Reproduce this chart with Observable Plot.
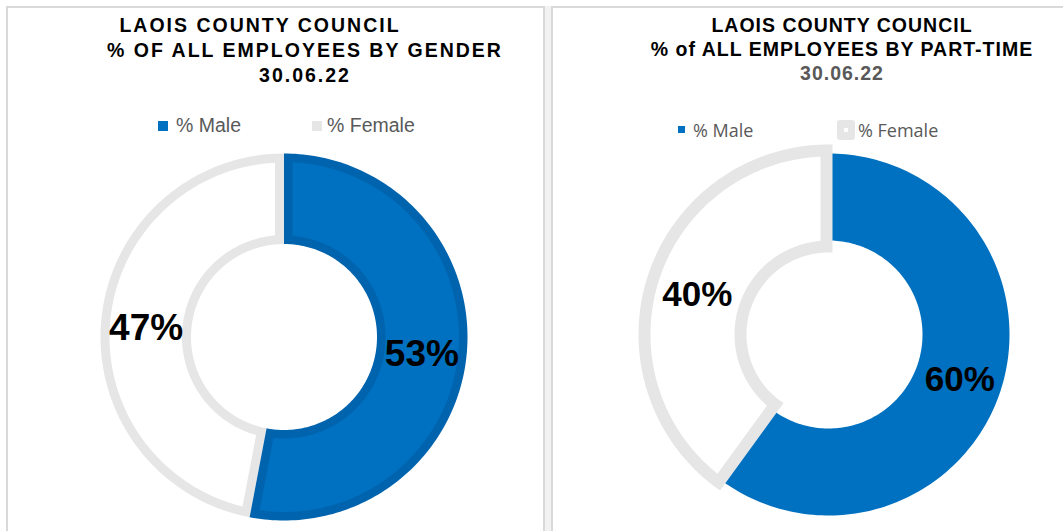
<!DOCTYPE html>
<html>
<head>
<meta charset="utf-8">
<script src="https://cdn.jsdelivr.net/npm/d3@7"></script>
<script src="https://cdn.jsdelivr.net/npm/@observablehq/plot@0.6"></script>
<style>
  html, body { margin: 0; padding: 0; background: #fff; }
  #root { position: relative; width: 1063px; height: 531px; overflow: hidden; background: #fff; font-family: "Liberation Sans", Arial, sans-serif; }
  .panelL { position: absolute; left: 6px; top: 6px; width: 535px; height: 560px; border-left: 2px solid #d9d9d9; border-top: 2px solid #d9d9d9; border-right: 2px solid #d9d9d9; }
  .gap { position: absolute; left: 545px; top: 6px; width: 6px; height: 560px; background: #f2f2f2; }
  .panelR { position: absolute; left: 551px; top: 6px; width: 560px; height: 560px; border-left: 2px solid #d9d9d9; border-top: 2px solid #d9d9d9; }
  .tline { position: absolute; white-space: pre; transform: translateX(-50%); font-weight: bold; font-size: 19.5px; color: #000; }
  .leg { position: absolute; white-space: pre; }
  .sw { position: absolute; }
  .chart { position: absolute; }
</style>
</head>
<body>
<div id="root">
  <div class="panelL"></div>
  <div class="gap"></div>
  <div class="panelR"></div>
</div>
<script>
// ---------- data ----------
const genderTitle = ["LAOIS COUNTY COUNCIL", "% OF ALL EMPLOYEES BY GENDER", "30.06.22"];
const genderCategories = ["% Male", "% Female"];
const genderValues = [53, 47];

const partTimeTitle = ["LAOIS COUNTY COUNCIL", "% of ALL EMPLOYEES BY PART-TIME", "30.06.22"];
const partTimeCategories = ["% Male", "% Female"];
const partTimeValues = [60, 40];

// ---------- styles ----------
const BLUE = "#0070c0";
const BLUE_DARK = "#0063ad";
const GRAY = "#e6e6e6";
const root = document.getElementById("root");

function addDiv(cls, css, text) {
  const d = document.createElement("div");
  d.className = cls;
  Object.assign(d.style, css);
  if (text != null) d.textContent = text;
  root.appendChild(d);
  return d;
}

// titles
const leftCenters = [260, 305, 305];
genderTitle.forEach((t, i) => addDiv("tline", {left: leftCenters[i] + "px", top: (12.7 + 25 * i) + "px", lineHeight: "25px", letterSpacing: "2px"}, t));
partTimeTitle.forEach((t, i) => addDiv("tline", {left: "842px", top: (13.2 + 24 * i) + "px", lineHeight: "24px", letterSpacing: "1px", color: i === 2 ? "#595959" : "#000"}, t));

// legends
const legL = [{sx: 158, tx: 176, c: BLUE}, {sx: 312, tx: 327, c: GRAY}];
genderCategories.forEach((c, i) => {
  addDiv("sw", {left: legL[i].sx + "px", top: "121px", width: "10px", height: "10px", background: legL[i].c});
  addDiv("leg", {left: legL[i].tx + "px", top: "115.2px", lineHeight: "20px", fontSize: "19.5px", color: "#595959"}, c);
});
partTimeCategories.forEach((c, i) => {
  if (i === 0) {
    addDiv("sw", {left: "678px", top: "126px", width: "7px", height: "7px", background: BLUE});
  } else {
    const s = addDiv("sw", {left: "837px", top: "120px", width: "18px", height: "20px", background: GRAY, borderRadius: "3px"});
    const inner = document.createElement("div");
    Object.assign(inner.style, {position: "absolute", left: "7px", top: "8px", width: "4px", height: "4px", background: "#fff"});
    s.appendChild(inner);
  }
  addDiv("leg", {left: (i === 0 ? 693 : 858) + "px", top: "120px", lineHeight: "20px", fontSize: "18px", color: "#595959", fontFamily: "'Open Sans', sans-serif"}, c);
});

// ---------- ring geometry helpers ----------
// polygon for an annular sector, inset by d pixels (negative d grows it)
function sector(key, a0, a1, rIn, rOut, d) {
  const ro = rOut - d, ri = rIn + d;
  const oo = Math.asin(d / ro), oi = Math.asin(d / ri);
  const pts = [];
  const n = 160;
  for (let k = 0; k <= n; k++) {
    const a = (a0 + oo) + ((a1 - oo) - (a0 + oo)) * k / n;
    pts.push({key, x: ro * Math.sin(a), y: ro * Math.cos(a)});
  }
  for (let k = 0; k <= n; k++) {
    const a = (a1 - oi) + ((a0 + oi) - (a1 - oi)) * k / n;
    pts.push({key, x: ri * Math.sin(a), y: ri * Math.cos(a)});
  }
  pts.push({...pts[0]});
  return pts;
}

function donut(categories, values, cfg) {
  const arcs = d3.pie().sort(null).value(v => v)(values);
  const marks = [];
  cfg.layers.forEach(L => {
    const a = arcs[L.i];
    const pts = sector(categories[L.i], a.startAngle, a.endAngle, L.rIn, L.rOut, L.d);
    marks.push(Plot.line(pts, {x: "x", y: "y", fill: L.fill, stroke: "none", curve: "linear"}));
  });
  const rMid = cfg.rLabel;
  const labels = arcs.map((a, i) => {
    const m = (a.startAngle + a.endAngle) / 2;
    return {text: values[i] + "%", x: rMid * Math.sin(m), y: rMid * Math.cos(m)};
  });
  marks.push(Plot.text(labels, {x: "x", y: "y", text: "text", fontSize: cfg.fontSize, fontWeight: "bold",
    fontFamily: "'Liberation Sans', Arial, sans-serif", fill: "#000", dy: cfg.dy}));
  const W = cfg.w, H = cfg.h, cx = cfg.cx - cfg.left, cy = cfg.cy - cfg.top;
  const svg = Plot.plot({
    width: W, height: H, margin: 0,
    x: {domain: [-cx, W - cx], range: [0, W], axis: null},
    y: {domain: [-(H - cy), cy], range: [H, 0], axis: null},
    style: {background: "transparent", overflow: "visible"},
    marks
  });
  const wrap = addDiv("chart", {left: cfg.left + "px", top: cfg.top + "px"});
  wrap.appendChild(svg);
}

donut(genderCategories, genderValues, {
  left: 80, top: 140, w: 410, h: 391, cx: 283.5, cy: 336.5,
  rLabel: 138.5, fontSize: 37, dy: 4.5,
  layers: [
    {i: 1, rIn: 93, rOut: 183.5, d: 0, fill: GRAY},
    {i: 1, rIn: 93, rOut: 183.5, d: 9, fill: "#fff"},
    {i: 0, rIn: 93, rOut: 183.5, d: 0, fill: BLUE_DARK},
    {i: 0, rIn: 93, rOut: 183.5, d: 8.5, fill: BLUE}
  ]
});

donut(partTimeCategories, partTimeValues, {
  left: 620, top: 135, w: 420, h: 396, cx: 828, cy: 334,
  rLabel: 138, fontSize: 35, dy: 2.5,
  layers: [
    {i: 0, rIn: 94, rOut: 181, d: 0, fill: BLUE},
    {i: 1, rIn: 86, rOut: 186, d: -4, fill: GRAY},
    {i: 1, rIn: 86, rOut: 186, d: 8, fill: "#fff"}
  ]
});
</script>
</body>
</html>
